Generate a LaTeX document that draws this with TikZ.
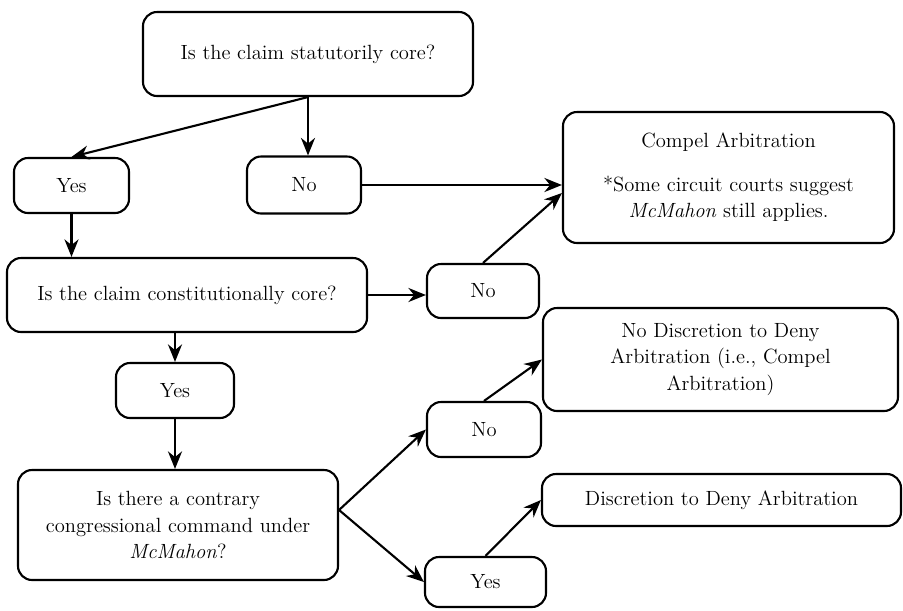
\documentclass[tikz,border=0pt]{standalone}
\usepackage{url,amsmath,amsfonts}
\usepackage{tikz}
\usetikzlibrary{arrows.meta}

\begin{document}
\begin{tikzpicture}[every text node part/.style={align=center},
		font=\fontsize{11.7}{15}\selectfont,
		flowbox/.style={draw=black, line width=1.2pt, rounded corners=8pt, inner sep=2pt},
		flowarrow/.style={black, line width=1.2pt, -{Stealth[length=10pt,width=8pt]}}]
		
		\useasboundingbox (0,0) rectangle (18.06,-12.2);
		
		\node[flowbox, minimum width=6.6cm, minimum height=1.68cm] (q1) at (6.16,-1.08) {Is the claim statutorily core?};
		
		\node[flowbox, minimum width=2.3cm, minimum height=1.1cm] (yes1) at (1.43,-3.71) {Yes};
		
		\node[flowbox, minimum width=2.28cm, minimum height=1.14cm] (no1) at (6.08,-3.7) {No};
		
		\node[flowbox, minimum width=6.62cm, minimum height=2.62cm] (compel) at (14.57,-3.55) {Compel Arbitration\\[10pt]*Some circuit courts suggest\\\textit{McMahon} still applies.};
		
		\node[flowbox, minimum width=7.2cm, minimum height=1.48cm] (q2) at (3.74,-5.9) {Is the claim constitutionally core?};
		
		\node[flowbox, minimum width=2.24cm, minimum height=1.08cm] (no2) at (9.66,-5.82) {No};
		
		\node[flowbox, minimum width=2.36cm, minimum height=1.1cm] (yes2) at (3.5,-7.81) {Yes};
		
		\node[flowbox, minimum width=7.1cm, minimum height=2.06cm] (nodisc) at (14.41,-7.19) {No Discretion to Deny\\Arbitration (i.e., Compel\\Arbitration)};
		
		\node[flowbox, minimum width=2.28cm, minimum height=1.1cm] (no3) at (9.68,-8.59) {No};
		
		\node[flowbox, minimum width=6.4cm, minimum height=2.2cm] (q3) at (3.56,-10.5) {Is there a contrary\\congressional command under\\\textit{McMahon}?};
		
		\node[flowbox, minimum width=7.18cm, minimum height=1.04cm] (disc) at (14.43,-10.0) {Discretion to Deny Arbitration};
		
		\node[flowbox, minimum width=2.42cm, minimum height=1.0cm] (yes3) at (9.71,-11.64) {Yes};
		
		\coordinate (fork) at ([yshift=0.3cm]q3.east);
		
		\draw[flowarrow] (q1.south) -- (yes1.north);
		\draw[flowarrow] (q1.south) -- (q1.south |- no1.north);
		\draw[flowarrow] (no1.east) -- (no1.east -| compel.west);
		\draw[flowarrow] (no2.north) -- ([yshift=-0.31cm]compel.west);
		
		\draw[flowarrow] (yes1.south) -- (yes1.south |- q2.north);
		\draw[flowarrow] (q2.east) -- (q2.east -| no2.west);
		\draw[flowarrow] (yes2.north |- q2.south) -- (yes2.north);
		\draw[flowarrow] (yes2.south) -- (yes2.south |- q3.north);
		
		\draw[flowarrow] (fork) -- (no3.west);
		\draw[flowarrow] (fork) -- (yes3.west);
		\draw[flowarrow] (no3.north) -- (nodisc.west);
		\draw[flowarrow] (yes3.north) -- (disc.west);
		
		\end{tikzpicture}
\end{document}
